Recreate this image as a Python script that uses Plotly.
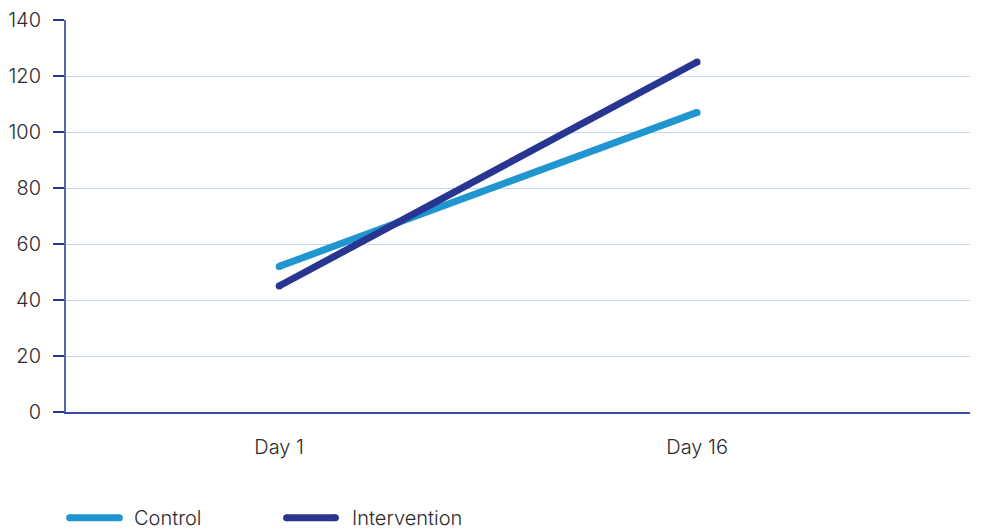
import plotly.graph_objects as go

# Measurements by day
days = ["Day 1", "Day 16"]
day_pos = [0, 1]
control = [52, 107]
intervention = [45, 125]

y_ticks = [0, 20, 40, 60, 80, 100, 120, 140]

series_names = ["Control", "Intervention"]
series_values = [control, intervention]
series_colors = ["#1f95d1", "#283591"]

FONT = "Inter, Lato, sans-serif"
TEXT_COLOR = "#2b2b2b"
FONT_SIZE = 20

fig = go.Figure()

for name, values, color in zip(series_names, series_values, series_colors):
    fig.add_trace(go.Scatter(
        x=day_pos,
        y=values,
        name=name,
        mode="lines+markers",
        line=dict(color=color, width=7),
        marker=dict(color=color, size=7, line=dict(width=0)),
        showlegend=False,
    ))

# Legend row below the chart: a short stroke followed by the series name
legend_y = -0.27
legend_slots = [(0.004, 0.059, 0.073), (0.244, 0.298, 0.314)]
for (x0, x1, xt), name, color in zip(legend_slots, series_names, series_colors):
    fig.add_shape(
        type="line", xref="paper", yref="paper",
        x0=x0, x1=x1, y0=legend_y, y1=legend_y,
        line=dict(color=color, width=7),
    )
    for xe in (x0, x1):
        fig.add_shape(
            type="circle", xref="paper", yref="paper",
            xsizemode="pixel", ysizemode="pixel",
            xanchor=xe, yanchor=legend_y,
            x0=-3.5, x1=3.5, y0=-3.5, y1=3.5,
            fillcolor=color, line=dict(width=0),
        )
    fig.add_annotation(
        xref="paper", yref="paper", x=xt, y=legend_y,
        xanchor="left", yanchor="middle", text=name, showarrow=False,
        font=dict(family=FONT, size=FONT_SIZE, color=TEXT_COLOR, weight=300),
    )

fig.update_layout(
    width=984,
    height=532,
    margin=dict(l=66, r=14, t=20, b=120, autoexpand=False),
    paper_bgcolor="white",
    plot_bgcolor="white",
    font=dict(family=FONT, size=FONT_SIZE, color=TEXT_COLOR, weight=300),
    showlegend=False,
)

fig.update_xaxes(
    range=[-0.51, 1.653],
    tickmode="array",
    tickvals=day_pos,
    ticktext=days,
    showgrid=False,
    zeroline=False,
    showline=True,
    linecolor="#3b4aa6",
    linewidth=2,
    ticks="outside",
    ticklen=16,
    tickcolor="rgba(0,0,0,0)",
    tickfont=dict(family=FONT, size=FONT_SIZE, color=TEXT_COLOR, weight=300),
)

fig.update_yaxes(
    range=[0, 140],
    tickmode="array",
    tickvals=y_ticks,
    showgrid=True,
    gridcolor="#c6d4ef",
    gridwidth=1,
    zeroline=False,
    showline=True,
    linecolor="#5566b5",
    linewidth=2,
    ticks="outside",
    ticklen=11,
    tickwidth=2,
    tickcolor="#283591",
    ticklabelstandoff=8,
    tickfont=dict(family=FONT, size=FONT_SIZE, color=TEXT_COLOR, weight=300),
)

fig.write_html("out.html")
